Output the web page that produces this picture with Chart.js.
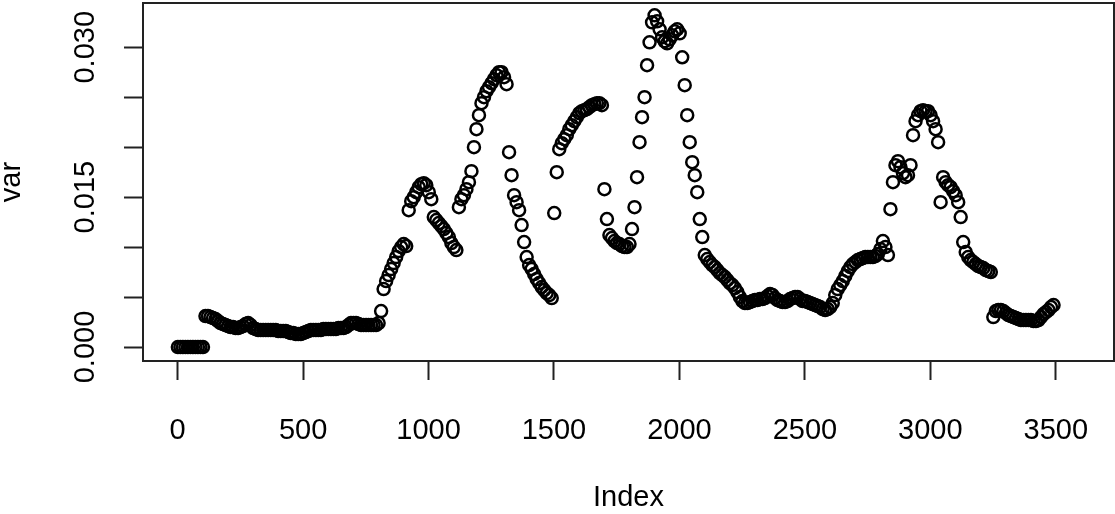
<!DOCTYPE html>
<html>
<head>
<meta charset="utf-8">
<script src="https://cdn.jsdelivr.net/npm/chart.js@4"></script>
<style>
  html, body { margin: 0; padding: 0; background: #fff; }
  #wrap { width: 1115px; height: 514px; }
</style>
</head>
<body>
<div id="wrap"><canvas id="chart" width="1115" height="514"></canvas></div>
<script>
// var, every 10th index (Index = 1, 11, 21, ...)
const indexStart = 1
const indexStep = 10
const varValues = [
  0, 0, 0, 0, 0, 0, 0, 0, 0, 0,
  0, .0031, .0031, .0030, .0029, .0028, .0026, .0024, .0023, .0022,
  .0021, .0020, .0020, .0019, .0019, .0020, .0021, .0023, .0024, .0022,
  .0019, .0018, .0017, .0017, .0017, .0017, .0017, .0017, .0017, .0017,
  .0016, .0016, .0016, .0016, .0015, .0014, .0014, .0013, .0013, .0013,
  .0014, .0015, .0016, .0017, .0017, .0017, .0017, .0017, .0018, .0018,
  .0018, .0018, .0018, .0018, .0019, .0019, .0019, .0020, .0022, .0024,
  .0024, .0024, .0023, .0022, .0022, .0022, .0022, .0022, .0022, .0022,
  .0024, .0036, .0058, .0066, .0072, .0078, .0084, .0090, .0096, .0100,
  .0103, .0101, .0137, .0146, .0150, .0155, .0160, .0163, .0164, .0162,
  .0155, .0148, .0130, .0127, .0124, .0121, .0118, .0114, .0110, .0104,
  .0100, .0097, .0140, .0148, .0152, .0158, .0165, .0176, .0200, .0218,
  .0232, .0244, .0250, .0256, .0260, .0264, .0268, .0272, .0275, .0275,
  .0270, .0263, .0195, .0172, .0152, .0145, .0137, .0122, .0105, .0090,
  .0082, .0078, .0073, .0068, .0064, .0060, .0057, .0054, .0052, .0049,
  .0134, .0175, .0198, .0204, .0208, .0212, .0218, .0222, .0226, .0230,
  .0234, .0236, .0237, .0238, .0240, .0242, .0243, .0244, .0244, .0242,
  .0158, .0128, .0112, .0109, .0106, .0104, .0103, .0101, .0100, .0100,
  .0103, .0118, .0140, .0170, .0205, .0230, .0250, .0282, .0305, .0325,
  .0332, .0326, .0318, .0310, .0306, .0304, .0308, .0312, .0316, .0318,
  .0314, .0290, .0262, .0232, .0205, .0185, .0172, .0155, .0128, .0110,
  .0092, .0088, .0085, .0082, .0080, .0077, .0074, .0072, .0070, .0067,
  .0064, .0062, .0059, .0055, .0050, .0046, .0044, .0044, .0045, .0046,
  .0047, .0047, .0048, .0048, .0049, .0051, .0053, .0052, .0049, .0047,
  .0046, .0045, .0045, .0046, .0048, .0049, .0050, .0050, .0048, .0046,
  .0046, .0045, .0044, .0043, .0042, .0041, .0040, .0038, .0037, .0038,
  .0040, .0044, .0052, .0058, .0062, .0066, .0071, .0076, .0080, .0083,
  .0085, .0087, .0088, .0089, .0090, .0090, .0090, .0090, .0091, .0093,
  .0098, .0106, .0100, .0092, .0138, .0165, .0182, .0186, .0180, .0174,
  .0170, .0172, .0182, .0212, .0226, .0232, .0236, .0237, .0236, .0236,
  .0232, .0226, .0218, .0205, .0145, .0170, .0165, .0162, .0160, .0156,
  .0152, .0145, .0130, .0105, .0095, .0090, .0087, .0085, .0083, .0081,
  .0080, .0079, .0077, .0076, .0075, .0030, .0036, .0037, .0037, .0036,
  .0034, .0032, .0031, .0030, .0029, .0028, .0027, .0027, .0027, .0027,
  .0027, .0026, .0026, .0027, .0030, .0033, .0035, .0037, .0040, .0042
]

const xTicks = [0, 500, 1000, 1500, 2000, 2500, 3000, 3500]
const yTicks = [0, 0.005, 0.01, 0.015, 0.02, 0.025, 0.03]
const yTickLabels = ['0.000', '', '', '0.015', '', '', '0.030']

const points = varValues.map((v, i) => ({x: indexStart + i * indexStep, y: v}))

const FONT = "'Liberation Sans', Arial, sans-serif"
const INK = '#222'

// R style box round the plot region
const boxPlugin = {
  id: 'box',
  afterDraw(c){
    const a = c.chartArea
    const ctx = c.ctx
    ctx.save()
    ctx.strokeStyle = INK
    ctx.lineWidth = 2
    ctx.strokeRect(a.left, a.top, a.right - a.left, a.bottom - a.top)
    ctx.restore()
  }
}

new Chart(document.getElementById('chart'), {
  type: 'scatter',
  data: {
    datasets: [{
      data: points,
      pointStyle: 'circle',
      pointRadius: 6,
      pointBorderWidth: 2.5,
      borderColor: '#000',
      backgroundColor: 'rgba(0,0,0,0)',
      pointHoverRadius: 6
    }]
  },
  options: {
    responsive: false,
    animation: false,
    layout: {autoPadding: false, padding: {top: 3, right: 1, left: 0, bottom: 0}},
    plugins: {legend: {display: false}, tooltip: {enabled: false}},
    scales: {
      x: {
        type: 'linear',
        min: -138,
        max: 3732,
        afterBuildTicks: s => { s.ticks = xTicks.map(v => ({value: v})) },
        afterFit: s => { s.height = 153; s.paddingLeft = 0; s.paddingRight = 0 },
        border: {display: false},
        grid: {drawOnChartArea: false, drawTicks: true, tickLength: 19, tickWidth: 2, tickColor: INK},
        ticks: {
          color: '#000',
          font: {family: FONT, size: 29},
          padding: 34,
          maxRotation: 0,
          autoSkip: false,
          callback: v => String(v)
        },
        title: {
          display: true,
          text: 'Index',
          color: '#000',
          font: {family: FONT, size: 29, lineHeight: 1.1},
          padding: {top: 0, bottom: 0}
        }
      },
      y: {
        type: 'linear',
        min: -0.0014,
        max: 0.03443,
        afterBuildTicks: s => { s.ticks = yTicks.map(v => ({value: v})) },
        afterFit: s => { s.width = 143; s.paddingTop = 0; s.paddingBottom = 0 },
        border: {display: false},
        grid: {drawOnChartArea: false, drawTicks: true, tickLength: 19, tickWidth: 2, tickColor: INK},
        ticks: {
          color: '#000',
          font: {family: FONT, size: 29},
          padding: 2.2,
          minRotation: 90,
          maxRotation: 90,
          crossAlign: 'center',
          autoSkip: false,
          callback: (v, i) => yTickLabels[i]
        },
        title: {
          display: true,
          text: 'var',
          color: '#000',
          font: {family: FONT, size: 29, lineHeight: 0.86},
          padding: {top: 0, bottom: 0}
        }
      }
    }
  },
  plugins: [boxPlugin]
})
</script>
</body>
</html>
